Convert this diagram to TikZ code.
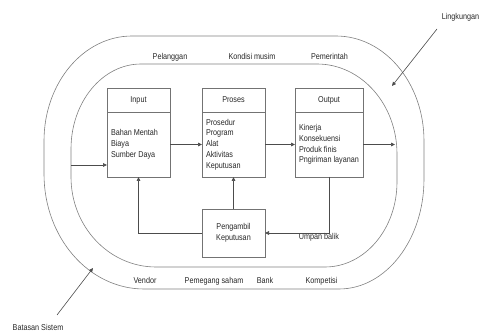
\documentclass[tikz,border=0pt]{standalone}
\usepackage{fontspec}
\setmainfont{Liberation Sans}[FakeStretch=0.85]
\usetikzlibrary{arrows.meta}
\definecolor{ringc}{gray}{0.5}
\definecolor{boxc}{gray}{0.45}
\definecolor{arrc}{gray}{0.3}
\definecolor{txtc}{gray}{0.15}
\begin{document}
\begin{tikzpicture}[x=1pt,y=-1pt,
  every node/.style={font=\fontsize{8.5}{10.8}\selectfont, text=txtc, inner sep=0pt, outer sep=0pt},
  ring/.style={draw=ringc, line width=0.6pt},
  boxpart/.style={draw=boxc, line width=0.6pt, minimum width=63pt, inner sep=0pt},
  hdr/.style={boxpart, minimum height=24pt},
  boxbody/.style={boxpart, minimum height=65pt},
  bodytxt/.style={align=left, anchor=west},
  lbl/.style={anchor=base},
  arr/.style={draw=arrc, line width=0.6pt, -{Triangle[length=4pt,width=3.6pt]}}]
\useasboundingbox (0,0) rectangle (480,331);
% outer ring (environment boundary)
\draw[ring] (132,36) -- (336,36)
  .. controls (384.6,36) and (424,83) .. (424,141) -- (424,179)
  .. controls (424,239.8) and (385.9,289) .. (339,289) -- (144,289)
  .. controls (88.8,289) and (44,237.5) .. (44,174) -- (44,141)
  .. controls (44,83) and (83.4,36) .. (132,36) -- cycle;
% inner ring (system boundary)
\draw[ring] (141,64) -- (317,64)
  .. controls (361.2,64) and (397,104.3) .. (397,154) -- (397,182)
  .. controls (397,228.9) and (364.8,267) .. (325,267) -- (156,267)
  .. controls (109.1,267) and (71,226.7) .. (71,177) -- (71,149)
  .. controls (71,102.1) and (102.3,64) .. (141,64) -- cycle;
% boxes
\node[hdr] (inh) at (138.5,100) {Input};
\node[boxbody] (inb) at (138.5,144.5) {};
\node[bodytxt] (inbt) at ([xshift=4pt]inb.west) {Bahan Mentah\\Biaya\\Sumber Daya};
\node[hdr] (prh) at (233.5,100) {Proses};
\node[boxbody] (prb) at (233.5,144.5) {};
\node[bodytxt] (prbt) at ([xshift=4pt]prb.west) {Prosedur\\Program\\Alat\\Aktivitas\\Keputusan};
\node[hdr, minimum width=68pt] (outh) at (329,100) {Output};
\node[boxbody, minimum width=68pt] (outb) at (329,144.5) {};
\node[bodytxt] (outbt) at ([xshift=4pt]outb.west) {Kinerja\\Konsekuensi\\Produk finis\\Pngiriman layanan};
\node[boxpart, minimum height=48pt, align=center] (pk) at (233.5,233) {Pengambil\\Keputusan};
% labels
\node[lbl] (pel) at (170,59.5) {Pelanggan};
\node[lbl] (kon) at (252,59.5) {Kondisi musim};
\node[lbl] (pem) at (329.5,59.5) {Pemerintah};
\node[lbl] (ven) at (145,284) {Vendor};
\node[lbl] (pms) at (214,284) {Pemegang saham};
\node[lbl] (bnk) at (265,284) {Bank};
\node[lbl] (kom) at (321.5,284) {Kompetisi};
\node[lbl] (ub) at (319,240) {Umpan balik};
\node[lbl] (lk) at (460.5,19.5) {Lingkungan};
\node[lbl] (bs) at (38,330.5) {Batasan Sistem};
% connectors
\coordinate (entry) at (71,165);
\coordinate (exitpt) at (395,144.5);
\draw[arr] (entry) -- (entry -| inb.west);
\draw[arr] (inb.east) -- (prb.west);
\draw[arr] (prb.east) -- (outb.west);
\draw[arr] (outb.east) -- (exitpt);
\draw[arr] (outb.south) |- (pk.east);
\draw[arr] (pk.west) -| (inb.south);
\draw[arr] (pk.north) -- (prb.south);
\coordinate (lka) at (437,29);
\coordinate (lkb) at (392,86);
\draw[arr] (lka) -- (lkb);
\coordinate (bsa) at (57,315);
\coordinate (bsb) at (93,268);
\draw[arr] (bsa) -- (bsb);
\end{tikzpicture}
\end{document}
